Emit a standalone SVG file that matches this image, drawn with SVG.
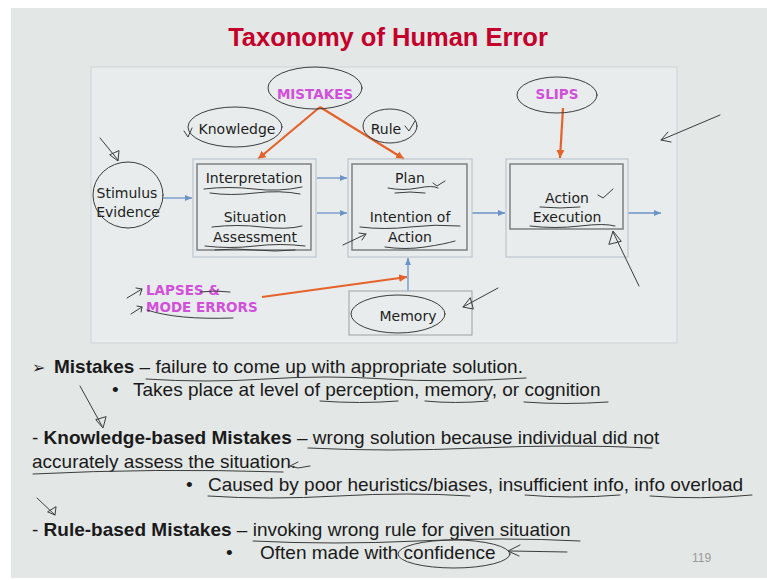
<svg xmlns="http://www.w3.org/2000/svg" width="767" height="580" viewBox="0 0 767 580">
<defs>
<style>
.lbl{font-family:"DejaVu Sans",Verdana,sans-serif;font-size:14px;fill:#1e1e1e;text-anchor:middle}
.mag{font-family:"DejaVu Sans",Verdana,sans-serif;font-size:13.5px;font-weight:bold;fill:#d24fdc}
.body{font-family:"Liberation Sans",Arial,"DejaVu Sans",sans-serif;font-size:19px;fill:#1a1a1a}
.b{font-weight:bold}
.outer{fill:none;stroke:#bcc6d0;stroke-width:1.2}
.inner{fill:none;stroke:#7d7f82;stroke-width:1.5}
.blue{stroke:#6b93c8;stroke-width:1.3;fill:none;marker-end:url(#ab)}
.org{stroke:#e5622a;stroke-width:2.2;fill:none;marker-end:url(#ao)}
.ink{stroke:#3c3c3c;stroke-width:1;fill:none;stroke-linecap:round;stroke-linejoin:round}
</style>
<marker id="ab" markerWidth="8" markerHeight="8" refX="7" refY="4" orient="auto" markerUnits="userSpaceOnUse"><path d="M0,1 L7,4 L0,7 Z" fill="#6b93c8"/></marker>
<marker id="ao" markerWidth="10" markerHeight="10" refX="8" refY="5" orient="auto" markerUnits="userSpaceOnUse"><path d="M0,1 L8,5 L0,9 Z" fill="#e5622a"/></marker>
</defs>
<rect width="767" height="580" fill="#ffffff"/>
<rect x="11" y="8" width="756" height="570" fill="#e3e7e6"/>
<text x="388" y="46" font-family="Liberation Sans, Arial, sans-serif" font-size="25.5" font-weight="bold" fill="#c4002b" text-anchor="middle">Taxonomy of Human Error</text>
<rect id="frame" x="91" y="67" width="586" height="276" fill="#e8ecec" stroke="#cdd3d4"/>

<g id="connectors">
<line class="blue" x1="163" y1="198" x2="192" y2="198"/>
<line class="blue" x1="317" y1="178" x2="347" y2="178"/>
<line class="blue" x1="317" y1="213" x2="347" y2="213"/>
<line class="blue" x1="472" y1="213" x2="505" y2="213"/>
<line class="blue" x1="628" y1="213" x2="661" y2="213"/>
<line class="blue" x1="408" y1="291" x2="408" y2="258"/>
<line class="org" x1="320" y1="107" x2="258" y2="159"/>
<line class="org" x1="320" y1="107" x2="404" y2="159"/>
<line class="org" x1="563" y1="108" x2="560" y2="158"/>
<line class="org" x1="262" y1="297" x2="407" y2="277"/>
</g>

<g id="stimulus">
<text class="lbl" x="127" y="198">Stimulus</text>
<text class="lbl" x="128" y="217">Evidence</text>
</g>
<g id="interpretation">
<rect class="outer" x="193" y="159" width="123" height="98"/>
<rect class="inner" x="197" y="164" width="114" height="86"/>
<text class="lbl" x="254" y="183">Interpretation</text>
<text class="lbl" x="255" y="222">Situation</text>
<text class="lbl" x="255" y="242">Assessment</text>
</g>
<g id="plan">
<rect class="outer" x="348" y="159" width="124" height="98"/>
<rect class="inner" x="352" y="164" width="115" height="86"/>
<text class="lbl" x="410" y="183">Plan</text>
<text class="lbl" x="410" y="222">Intention of</text>
<text class="lbl" x="410" y="242">Action</text>
</g>
<g id="execution">
<rect class="outer" x="506" y="159" width="122" height="98"/>
<rect class="inner" x="510" y="164" width="113" height="65"/>
<text class="lbl" x="567" y="203">Action</text>
<text class="lbl" x="567" y="222">Execution</text>
</g>
<g id="memory">
<rect x="349" y="291" width="123" height="44" fill="none" stroke="#a9adb0" stroke-width="1.2"/>
<text class="lbl" x="408" y="321">Memory</text>
</g>
<g id="mistakes"><text class="mag" x="315" y="99" text-anchor="middle">MISTAKES</text></g>
<g id="knowledge"><text class="lbl" x="237" y="134">Knowledge</text></g>
<g id="rule"><text class="lbl" x="386" y="134">Rule</text></g>
<g id="slips"><text class="mag" x="557" y="99" text-anchor="middle">SLIPS</text></g>
<g id="lapses">
<text class="mag" x="146" y="295">LAPSES &amp;</text>
<text class="mag" x="146" y="312">MODE ERRORS</text>
</g>

<g id="notes">
<text class="body" y="373"><tspan x="32" font-family="DejaVu Sans, sans-serif" font-size="16">➢</tspan><tspan x="54" class="b">Mistakes</tspan> – failure to come up with appropriate solution.</text>
<text class="body" y="396"><tspan x="112">•</tspan><tspan x="133">Takes place at level of perception, memory, or cognition</tspan></text>
<text class="body" x="32" y="444">- <tspan class="b">Knowledge-based Mistakes</tspan> – wrong solution because individual did not</text>
<text class="body" x="32" y="468">accurately assess the situation.</text>
<text class="body" y="491"><tspan x="186">•</tspan><tspan x="208">Caused by poor heuristics/biases, insufficient info, info overload</tspan></text>
<text class="body" x="32" y="536">- <tspan class="b">Rule-based Mistakes</tspan> – invoking wrong rule for given situation</text>
<text class="body" y="559"><tspan x="226">•</tspan><tspan x="260">Often made with confidence</tspan></text>
<text x="692" y="562" font-family="Liberation Sans, Arial, sans-serif" font-size="12" fill="#9a9a9a">119</text>
</g>

<g id="annotations" class="ink">
<ellipse cx="315" cy="88" rx="47" ry="21"/>
<ellipse cx="235" cy="127" rx="47" ry="20"/>
<path d="M184,131 l4,6 l4,-9"/>
<ellipse cx="390" cy="126" rx="27" ry="17"/>
<path d="M405,126 l4,5 l6,-10"/>
<ellipse cx="557" cy="95" rx="40" ry="18"/>
<ellipse cx="128" cy="195" rx="35" ry="33"/>
<ellipse cx="398" cy="314" rx="47" ry="19"/>
<ellipse cx="454" cy="554" rx="56" ry="14"/>
<path d="M100,138 L118,160 M110,155 L118,161 L119,151 Z"/>
<path d="M498,288 L463,307 M470,298 L463,307 L473,309 Z"/>
<path d="M639,286 L613,232 M609,244 L613,231 L621,241 Z"/>
<path d="M720,115 L661,140 M668,132 L661,140 L671,142"/>
<path d="M343,245 L366,234 M359,233 L366,234 L362,240"/>
<path d="M127,298 L142,289 M136,288 L142,289 L140,295"/>
<path d="M131,314 L142,307 M137,306 L142,307 L141,312"/>
<path d="M204,189 q25,-3 50,0 t48,-2 M210,193 q20,3 45,0 t45,1"/>
<path d="M212,227 q25,-3 50,0 t40,-1"/>
<path d="M205,246 q25,3 50,0 t50,0 M215,250 q20,-2 40,0 t40,0"/>
<path d="M388,188 q15,3 30,0 t20,0 M395,193 q15,-2 30,0"/>
<path d="M433,183 l4,3 l8,-5"/>
<path d="M360,227 q25,3 50,0 t50,-1"/>
<path d="M385,247 q20,3 40,0 t30,-6"/>
<path d="M540,207 q20,2 40,0"/>
<path d="M598,195 l5,3 l10,-9"/>
<path d="M530,226 q25,3 50,0 t35,0"/>
<path d="M200,292 q15,-2 30,0 M147,310 q30,10 86,8"/>
<path d="M146,379 q60,4 120,0 t120,0 t140,-1"/>
<path d="M320,401 q40,3 78,0 M425,401 q30,3 63,0 M524,402 q40,3 84,0"/>
<path d="M308,448 q80,4 170,0 t174,0"/>
<path d="M33,474 q120,-6 250,-2 M290,466 l8,-4 M290,466 l8,2 l12,-2"/>
<path d="M208,496 q60,4 130,0 t132,0 M525,495 q45,4 95,0 M650,496 q50,4 102,-1"/>
<path d="M253,541 q80,4 165,0 t162,0"/>
<path d="M80,386 L102,426 M96,420 L103,428 L106,417 Z"/>
<path d="M37,498 L55,515 M48,512 L55,515 L56,507 Z"/>
<path d="M567,552 L510,551 M520,545 L508,551 L519,556"/>
</g>
</svg>
